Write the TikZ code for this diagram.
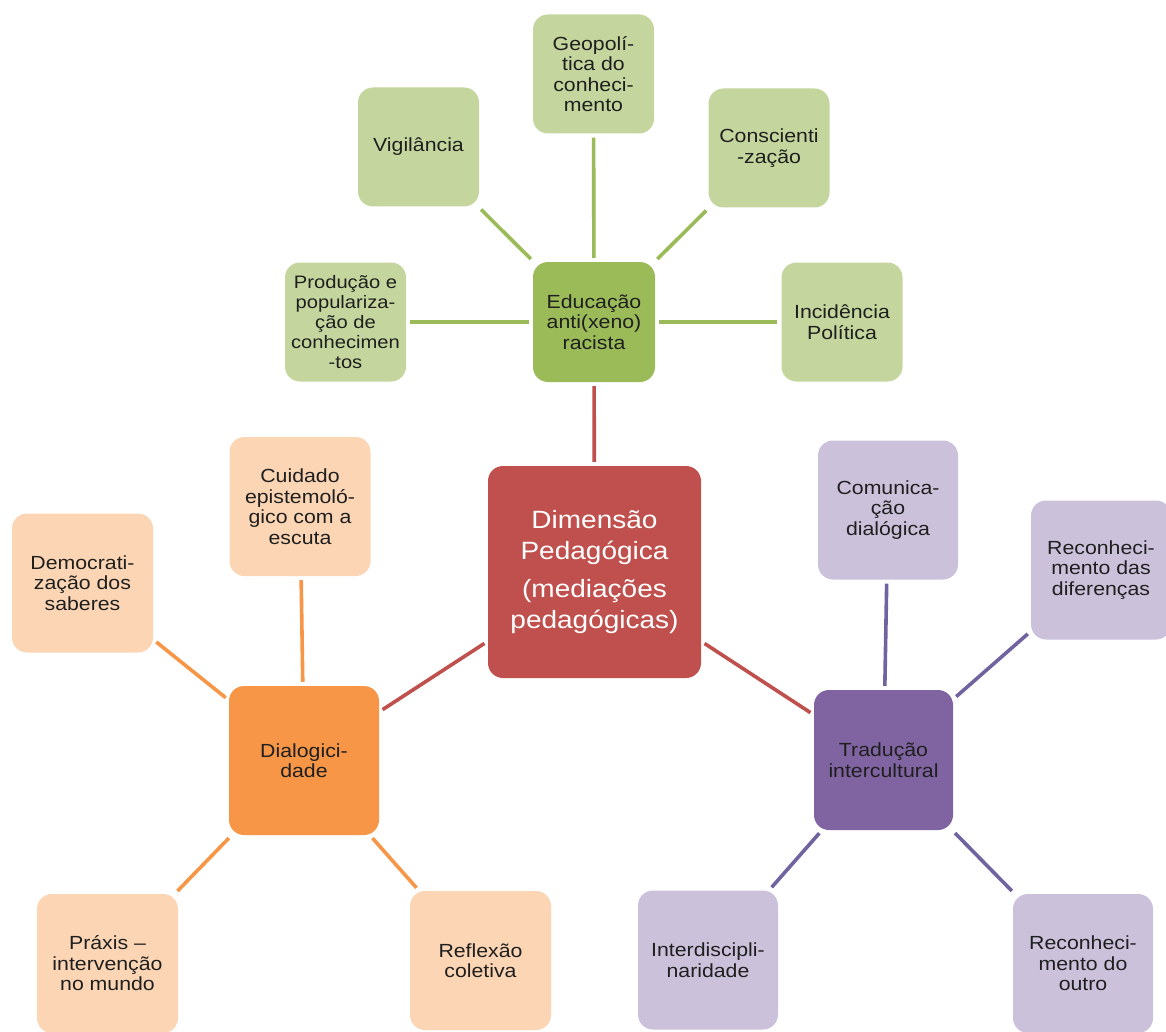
\documentclass[tikz,border=0pt]{standalone}
\usepackage{fontspec}
\setmainfont{Liberation Sans}[FakeStretch=1.12]
\begin{document}
\begin{tikzpicture}[x=1pt,y=-1pt,
  box/.style={rectangle, rounded corners=15pt, inner sep=2pt, align=center,
    text=black!88, font=\fontsize{19}{20.5}\selectfont},
  gsat/.style={box, fill=greenL, minimum width=121pt, minimum height=119pt},
  osat/.style={box, fill=orangeL, minimum width=141pt, minimum height=139pt},
  psat/.style={box, fill=purpleL, minimum width=140pt, minimum height=139pt},
  link/.style={line width=3.6pt, shorten <=4pt, shorten >=4pt}
]
\definecolor{greenL}{HTML}{C4D69D}
\definecolor{greenD}{HTML}{9BBB59}
\definecolor{orangeL}{HTML}{FCD5B4}
\definecolor{orangeD}{HTML}{F79646}
\definecolor{purpleL}{HTML}{CCC1DA}
\definecolor{purpleD}{HTML}{8064A2}
\definecolor{purpleLn}{HTML}{7163A0}
\definecolor{redD}{HTML}{C0504D}
\fill[white] (0,0) rectangle (1166,1032);
\useasboundingbox (0,0) rectangle (1166,1032);

% centre
\node[box, fill=redD, text=white, minimum width=213pt, minimum height=212pt,
  font=\fontsize{25}{31}\selectfont] (dim) at (594.5,572)
  {Dimensão\\Pedagógica\\[7pt](mediações\\pedagógicas)};

% green group
\node[box, fill=greenD, minimum width=122pt, minimum height=120pt] (edu) at (594,322) {Educação\\anti(xeno)\\racista};
\node[gsat] (geo) at (593.5,74) {Geopolí-\\tica do\\conheci-\\mento};
\node[gsat] (vig) at (418.5,147) {Vigilância};
\node[gsat] (con) at (769,148) {Conscienti\\-zação};
\node[gsat, font=\fontsize{18}{20}\selectfont] (prod) at (345.5,322) {Produção e\\populariza-\\ção de\\conhecimen\\-tos};
\node[gsat] (inc) at (842,322) {Incidência\\Política};

% orange group
\node[box, fill=orangeD, minimum width=150pt, minimum height=149pt] (dia) at (304,760.5) {Dialogici-\\dade};
\node[osat] (cuid) at (300,506.5) {Cuidado\\epistemoló-\\gico com a\\escuta};
\node[osat] (dem) at (82.5,583) {Democrati-\\zação dos\\saberes};
\node[osat] (prax) at (107.5,963.5) {Práxis –\\intervenção\\no mundo};
\node[osat] (refl) at (480.5,960.5) {Reflexão\\coletiva};

% purple group
\node[box, fill=purpleD, minimum width=139pt, minimum height=140pt] (trad) at (883.5,760) {Tradução\\intercultural};
\node[psat] (com) at (888,510) {Comunica-\\ção\\dialógica};
\node[psat] (recdif) at (1101,570) {Reconheci-\\mento das\\diferenças};
\node[psat] (inter) at (708,960) {Interdiscipli-\\naridade};
\node[psat] (recout) at (1083,963.5) {Reconheci-\\mento do\\outro};

% connectors
\draw[link, greenD] (edu) -- (geo);
\draw[link, greenD] (edu) -- (vig);
\draw[link, greenD] (edu) -- (con);
\draw[link, greenD] (edu) -- (prod);
\draw[link, greenD] (edu) -- (inc);

\draw[link, redD] (dim) -- (edu);
\draw[link, redD] (dim) -- (dia);
\draw[link, redD] (dim) -- (trad);

\draw[link, orangeD] (dia) -- (cuid);
\draw[link, orangeD] (dia) -- (dem);
\draw[link, orangeD] (dia) -- (prax);
\draw[link, orangeD] (dia) -- (refl);

\draw[link, purpleLn] (trad) -- (com);
\draw[link, purpleLn] (trad) -- (recdif);
\draw[link, purpleLn] (trad) -- (inter);
\draw[link, purpleLn] (trad) -- (recout);
\end{tikzpicture}
\end{document}
